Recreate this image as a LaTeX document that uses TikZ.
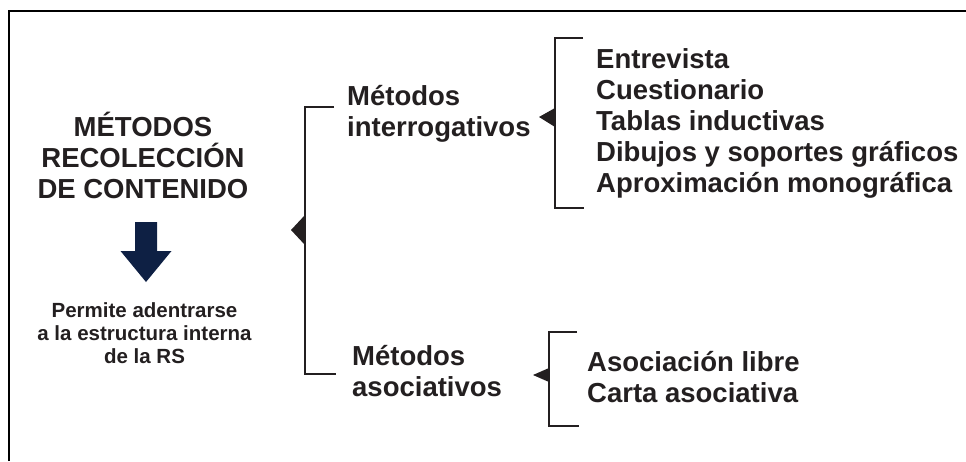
\documentclass[tikz,border=0pt]{standalone}
\usepackage{fontspec}
\setmainfont{Liberation Sans}
\usetikzlibrary{positioning}
\tikzset{>=latex}
\definecolor{ink}{RGB}{35,31,32}
\definecolor{navy}{RGB}{14,32,68}
\def\linethickness{2.6pt}
\tikzset{
  big/.style={font=\fontsize{27.5}{31}\selectfont\bfseries, text=ink, inner sep=0pt},
  small/.style={font=\fontsize{20.5}{23}\selectfont\bfseries, text=ink, inner sep=0pt},
  brace/.style={draw=ink, line width=\linethickness},
}

\begin{document}
\begin{tikzpicture}[x=1pt, y=-1pt]
    \useasboundingbox (0, 0) rectangle (966, 461);
    % frame
    \draw[line width=2.4pt] (9, 461) -- (9, 11) -- (966, 11);
    % left column (anchors sit on the last line)
    \node[big, align=center, anchor=base] (title) at (143, 198) {MÉTODOS\\RECOLECCIÓN\\DE CONTENIDO};
    \fill[navy] (135, 222) -- (157, 222) -- (157, 251) -- (171.5, 251) -- (146, 282) -- (120.5, 251) -- (135, 251) -- cycle;
    \node[small, align=center, anchor=base] (note) at (144.5, 363) {Permite adentrarse\\a la estructura interna\\de la RS};
    % main bracket
    \coordinate (m1) at (334, 107);
    \coordinate (m2) at (305, 107);
    \coordinate (m3) at (305, 374);
    \coordinate (m4) at (336, 374);
    \draw[brace] (m1) -- (m2) -- (m3) -- (m4);
    \fill[ink] (291, 230) -- (305, 215) -- (305, 245) -- cycle;
    \node[big, align=left, anchor=base west] (inter) at (347, 136) {Métodos\\interrogativos};
    \node[big, align=left, anchor=base west] (asoc) at (352, 396) {Métodos\\asociativos};
    % interrogativos
    \coordinate (a1) at (583, 38);
    \coordinate (a2) at (555, 38);
    \coordinate (a3) at (555, 208);
    \coordinate (a4) at (584, 208);
    \draw[brace] (a1) -- (a2) -- (a3) -- (a4);
    \fill[ink] (539, 117) -- (555, 108) -- (555, 127) -- cycle;
    \node[big, align=left, anchor=base west] (list1) at (596, 192) {Entrevista\\Cuestionario\\Tablas inductivas\\Dibujos y soportes gráficos\\Aproximación monográfica};
    % asociativos
    \coordinate (b1) at (577, 332);
    \coordinate (b2) at (549, 332);
    \coordinate (b3) at (549, 426);
    \coordinate (b4) at (579, 426);
    \draw[brace] (b1) -- (b2) -- (b3) -- (b4);
    \fill[ink] (533, 375) -- (549, 368) -- (549, 382) -- cycle;
    \node[big, align=left, anchor=base west] (list2) at (587, 402) {Asociación libre\\Carta asociativa};
\end{tikzpicture}
\end{document}
